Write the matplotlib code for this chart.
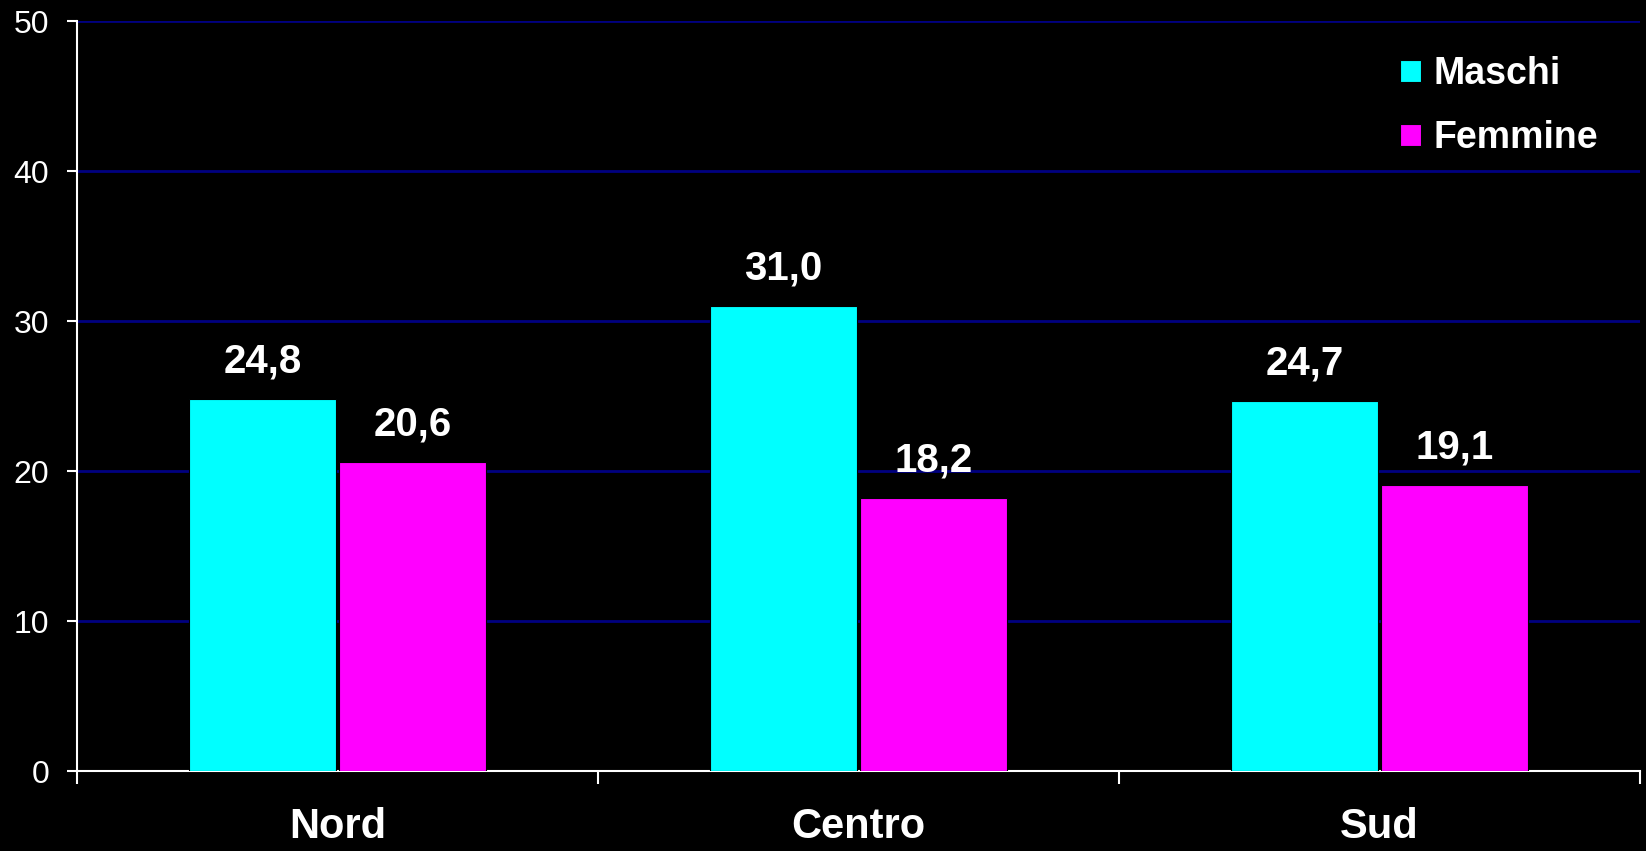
import numpy as np
import matplotlib
matplotlib.use('Agg')
import matplotlib.pyplot as plt

plt.rcParams['font.family'] = ['Liberation Sans', 'DejaVu Sans']

# data
categories = ['Nord', 'Centro', 'Sud']
maschi = [24.8, 31.0, 24.7]
femmine = [20.6, 18.2, 19.1]
series_names = ['Maschi', 'Femmine']
y_ticks = [0, 10, 20, 30, 40, 50]

fig = plt.figure(figsize=(16.46, 8.51), dpi=100, facecolor='black')
ax = fig.add_axes([0.0468, 0.094, 0.9496, 0.8813])
ax.set_facecolor('black')

x = np.arange(len(categories))
w = 0.282
b1 = ax.bar(x - w / 2 - 0.003, maschi, w, color='#00FFFF', edgecolor='black',
            linewidth=0.8, label=series_names[0], zorder=3)
b2 = ax.bar(x + w / 2 + 0.003, femmine, w, color='#FF00FF', edgecolor='black',
            linewidth=0.8, label=series_names[1], zorder=3)

# value labels with comma decimal
for bars, vals in [(b1, maschi), (b2, femmine)]:
    for r, v in zip(bars, vals):
        ax.annotate(f'{v:.1f}'.replace('.', ','),
                    (r.get_x() + r.get_width() / 2, v),
                    xytext=(0, 13), textcoords='offset points',
                    ha='center', va='bottom', color='white',
                    fontsize=29, fontweight='bold')

ax.set_xlim(-0.5, len(categories) - 0.5)
ax.set_ylim(0, 50)
ax.set_yticks(y_ticks)
ax.yaxis.grid(True, color='#000080', linewidth=2, zorder=0)
ax.set_axisbelow(True)

# category labels at the centres, tick marks at the boundaries
ax.set_xticks(x)
ax.set_xticklabels(categories, fontsize=30, fontweight='bold', color='white')
ax.tick_params(axis='x', which='major', length=0, pad=26)
ax.set_xticks(np.arange(len(categories) + 1) - 0.5, minor=True)
ax.tick_params(axis='x', which='minor', length=9, width=1.5, color='white',
               direction='out')
ax.tick_params(axis='y', length=7, width=1.5, color='white', labelcolor='white',
               labelsize=23, pad=13)

for side in ['top', 'right']:
    ax.spines[side].set_visible(False)
for side in ['left', 'bottom']:
    ax.spines[side].set_color('white')
    ax.spines[side].set_linewidth(1.5)

leg = ax.legend(loc='upper right', bbox_to_anchor=(0.995, 0.998), frameon=False,
                fontsize=27, handlelength=0.55, handleheight=0.55,
                handletextpad=0.35, labelspacing=0.75, labelcolor='white')
for t in leg.get_texts():
    t.set_fontweight('bold')

fig.savefig('out.png', dpi=100, facecolor='black')
